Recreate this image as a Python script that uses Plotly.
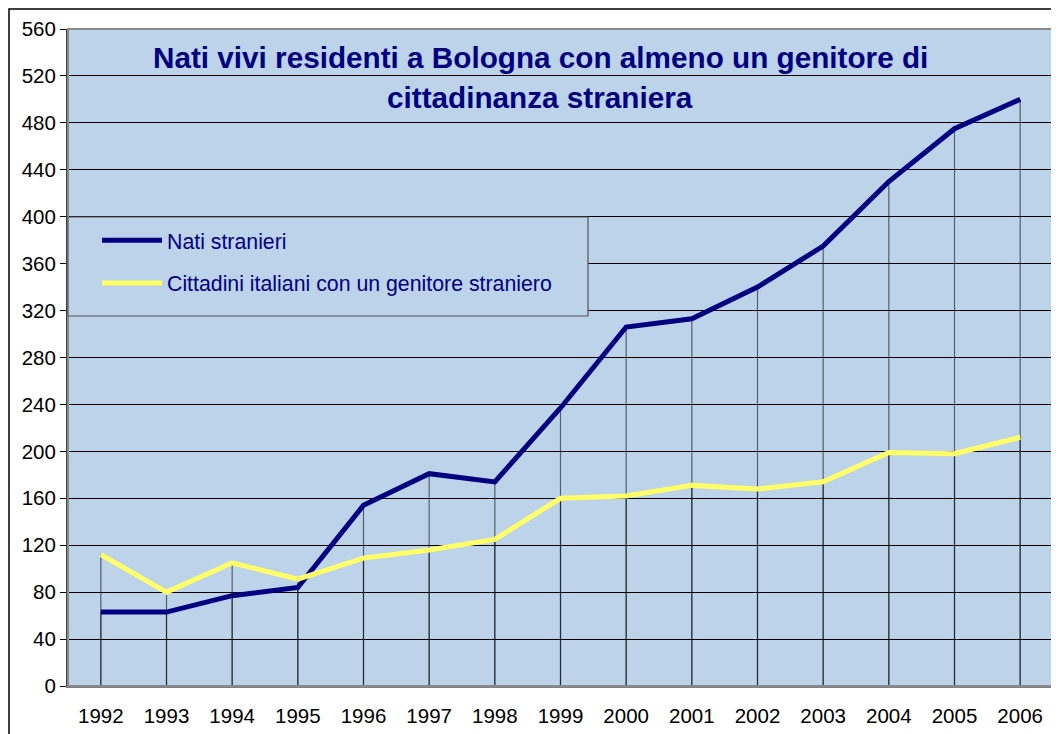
import plotly.graph_objects as go

years = ["1992", "1993", "1994", "1995", "1996", "1997", "1998", "1999",
         "2000", "2001", "2002", "2003", "2004", "2005", "2006"]
nati_stranieri = [63, 63, 77, 84, 154, 181, 174, 237, 306, 313, 340, 375, 430, 475, 500]
cittadini_italiani = [112, 80, 105, 91, 109, 116, 125, 160, 162, 171, 168, 174, 199, 198, 212]
y_ticks = list(range(0, 561, 40))

NAVY = "#000080"
YELLOW = "#FFFF66"
BG = "#BCD3EA"
FONT = "Arial, Liberation Sans, sans-serif"

OFF = 8  # page body margin
W, H = 1059 - OFF, 734 - OFF
# plot area in page coordinates: x 68..1053, y 29..686
L, T = 68 - OFF, 29 - OFF
R, B = W - (1053 - OFF), H - (686 - OFF)
pw, ph = W - L - R, H - T - B


def px2x(px):
    return (px - OFF - L) / pw


def px2y(py):
    return (H - B - (py - OFF)) / ph


def drops(values):
    xs, ys = [], []
    for x, v in zip(years, values):
        xs += [x, x, None]
        ys += [0, v, None]
    return xs, ys


fig = go.Figure()
for vals in (nati_stranieri, cittadini_italiani):
    dx, dy = drops(vals)
    fig.add_trace(go.Scatter(x=dx, y=dy, mode="lines", showlegend=False,
                             hoverinfo="skip",
                             line=dict(color="rgba(0,0,0,0.55)", width=1.2)))

fig.add_trace(go.Scatter(x=years, y=nati_stranieri, mode="lines",
                         name="Nati stranieri", legendgroup="a",
                         line=dict(color=NAVY, width=5)))
fig.add_trace(go.Scatter(x=years, y=cittadini_italiani, mode="lines",
                         name="Cittadini italiani con un genitore straniero",
                         legendgroup="b",
                         line=dict(color=YELLOW, width=5)))

fig.update_layout(
    width=W, height=H,
    margin=dict(l=L, r=R, t=T, b=B, autoexpand=False),
    paper_bgcolor="white",
    plot_bgcolor=BG,
    font=dict(family=FONT, color="black", size=20),
    showlegend=True,
    legend=dict(
        x=px2x(97), y=px2y(220), xanchor="left", yanchor="top",
        bgcolor="rgba(0,0,0,0)", borderwidth=0,
        font=dict(family=FONT, size=21.3, color=NAVY),
        traceorder="grouped", tracegroupgap=12,
        itemwidth=60,
    ),
    xaxis=dict(
        type="category", categoryorder="array", categoryarray=years,
        range=[-0.5, len(years) - 0.5],
        showgrid=False, zeroline=False,
        showline=True, linecolor="#808080", linewidth=2,
        ticks="", tickfont=dict(size=20.5, family=FONT, color="black"),
        ticklabelstandoff=10,
    ),
    yaxis=dict(
        range=[0, 560], tickvals=y_ticks,
        showgrid=True, gridcolor="black", gridwidth=1,
        zeroline=False,
        showline=True, linecolor="#404040", linewidth=2,
        ticks="outside", ticklen=6, tickcolor="black",
        tickfont=dict(size=20.5, family=FONT, color="black"),
    ),
    shapes=[
        dict(type="rect", xref="paper", yref="paper",
             x0=0, x1=1, y0=0, y1=1, line=dict(color="#8a8a8a", width=2),
             layer="above"),
        dict(type="rect", xref="paper", yref="paper",
             x0=px2x(68), x1=px2x(588), y0=px2y(316), y1=px2y(217),
             fillcolor=BG, line=dict(color="#555555", width=1.2),
             layer="above"),
        dict(type="rect", xref="paper", yref="paper",
             x0=px2x(9), x1=px2x(1075), y0=px2y(750), y1=px2y(9),
             line=dict(color="black", width=1.5), layer="below"),
    ],
    annotations=[
        dict(text="<b>Nati vivi residenti a Bologna con almeno un genitore di</b>",
             xref="paper", yref="paper", x=px2x(540), y=px2y(57),
             xanchor="center", yanchor="middle", showarrow=False,
             font=dict(family=FONT, size=29.7, color=NAVY)),
        dict(text="<b>cittadinanza straniera</b>",
             xref="paper", yref="paper", x=px2x(540), y=px2y(97),
             xanchor="center", yanchor="middle", showarrow=False,
             font=dict(family=FONT, size=29.7, color=NAVY)),
    ],
)

fig.write_html("out.html")
